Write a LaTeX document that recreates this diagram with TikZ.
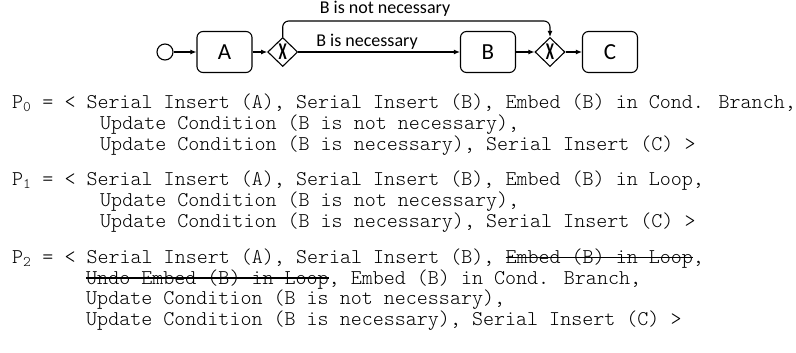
\documentclass[tikz,border=0pt]{standalone}
\usepackage{fontspec}
\setmainfont{Carlito}
\newfontfamily\codefont[Extension=.otf]{lmmonolt10-regular}
\usetikzlibrary{arrows.meta,shapes.geometric}
\newsavebox\strkbox
\newcommand\strk[1]{\sbox\strkbox{#1}\rlap{\usebox\strkbox}\rule[0.25em]{\wd\strkbox}{0.06em}}
\begin{document}
\begin{tikzpicture}[x=1pt,y=-1pt,
  task/.style={draw, rounded corners=6pt, minimum width=55pt, minimum height=41pt, line width=1.1pt, font=\fontsize{23}{23}\selectfont, inner sep=0pt},
  gw/.style={draw, diamond, minimum width=30pt, minimum height=29pt, inner sep=0pt, line width=1.1pt,
    label={[font=\fontsize{24}{24}\selectfont\bfseries, inner sep=0pt]center:\scalebox{0.62}[1]{X}}},
  flow/.style={line width=1.1pt, -{Latex[length=6pt,width=5pt]}},
  code/.style={anchor=base west, inner sep=0pt, font=\codefont\fontsize{21}{24}\selectfont},
  lbl/.style={font=\fontsize{18}{19}\selectfont, inner sep=0pt}]
\useasboundingbox (0,0) rectangle (796,353);
% process model
\node[circle, draw, minimum size=16pt, inner sep=0pt, line width=1.1pt] (s) at (165,52) {};
\node[task] (A) at (224.5,52) {A};
\node[gw] (g1) at (282.7,52) {};
\node[task] (B) at (488,52) {B};
\node[gw] (g2) at (550,52) {};
\node[task] (C) at (610,52) {C};
\coordinate (t1) at (282.7,21);
\coordinate (t2) at (550,21);
\draw[flow] (s) -- (A);
\draw[flow] (A) -- (g1);
\draw[flow] (g1) -- (B);
\draw[flow] (B) -- (g2);
\draw[flow] (g2) -- (C);
\draw[flow, rounded corners=6pt] (g1.north) -- (t1) -- (t2) -- (g2.north);
\node[lbl] (l1) at (385,9) {B is not necessary};
\node[lbl] (l2) at (367,42) {B is necessary};
% change logs
\node[code] (p0a) at (12,108.5) {P\textsubscript{0} = < Serial Insert (A), Serial Insert (B), Embed (B) in Cond. Branch,};
\node[code] (p0b) at (100,129.5) {Update Condition (B is not necessary),};
\node[code] (p0c) at (100,150.5) {Update Condition (B is necessary), Serial Insert (C) >};
\node[code] (p1a) at (12,185.5) {P\textsubscript{1} = < Serial Insert (A), Serial Insert (B), Embed (B) in Loop,};
\node[code] (p1b) at (100,206.5) {Update Condition (B is not necessary),};
\node[code] (p1c) at (100,227) {Update Condition (B is necessary), Serial Insert (C) >};
\node[code] (p2a) at (12,263.5) {P\textsubscript{2} = < Serial Insert (A), Serial Insert (B), \strk{Embed (B) in Loop},};
\node[code] (p2b) at (86,284) {\strk{Undo Embed (B) in Loop}, Embed (B) in Cond. Branch,};
\node[code] (p2c) at (86,304.5) {Update Condition (B is not necessary),};
\node[code] (p2d) at (86,325.5) {Update Condition (B is necessary), Serial Insert (C) >};
\end{tikzpicture}
\end{document}
